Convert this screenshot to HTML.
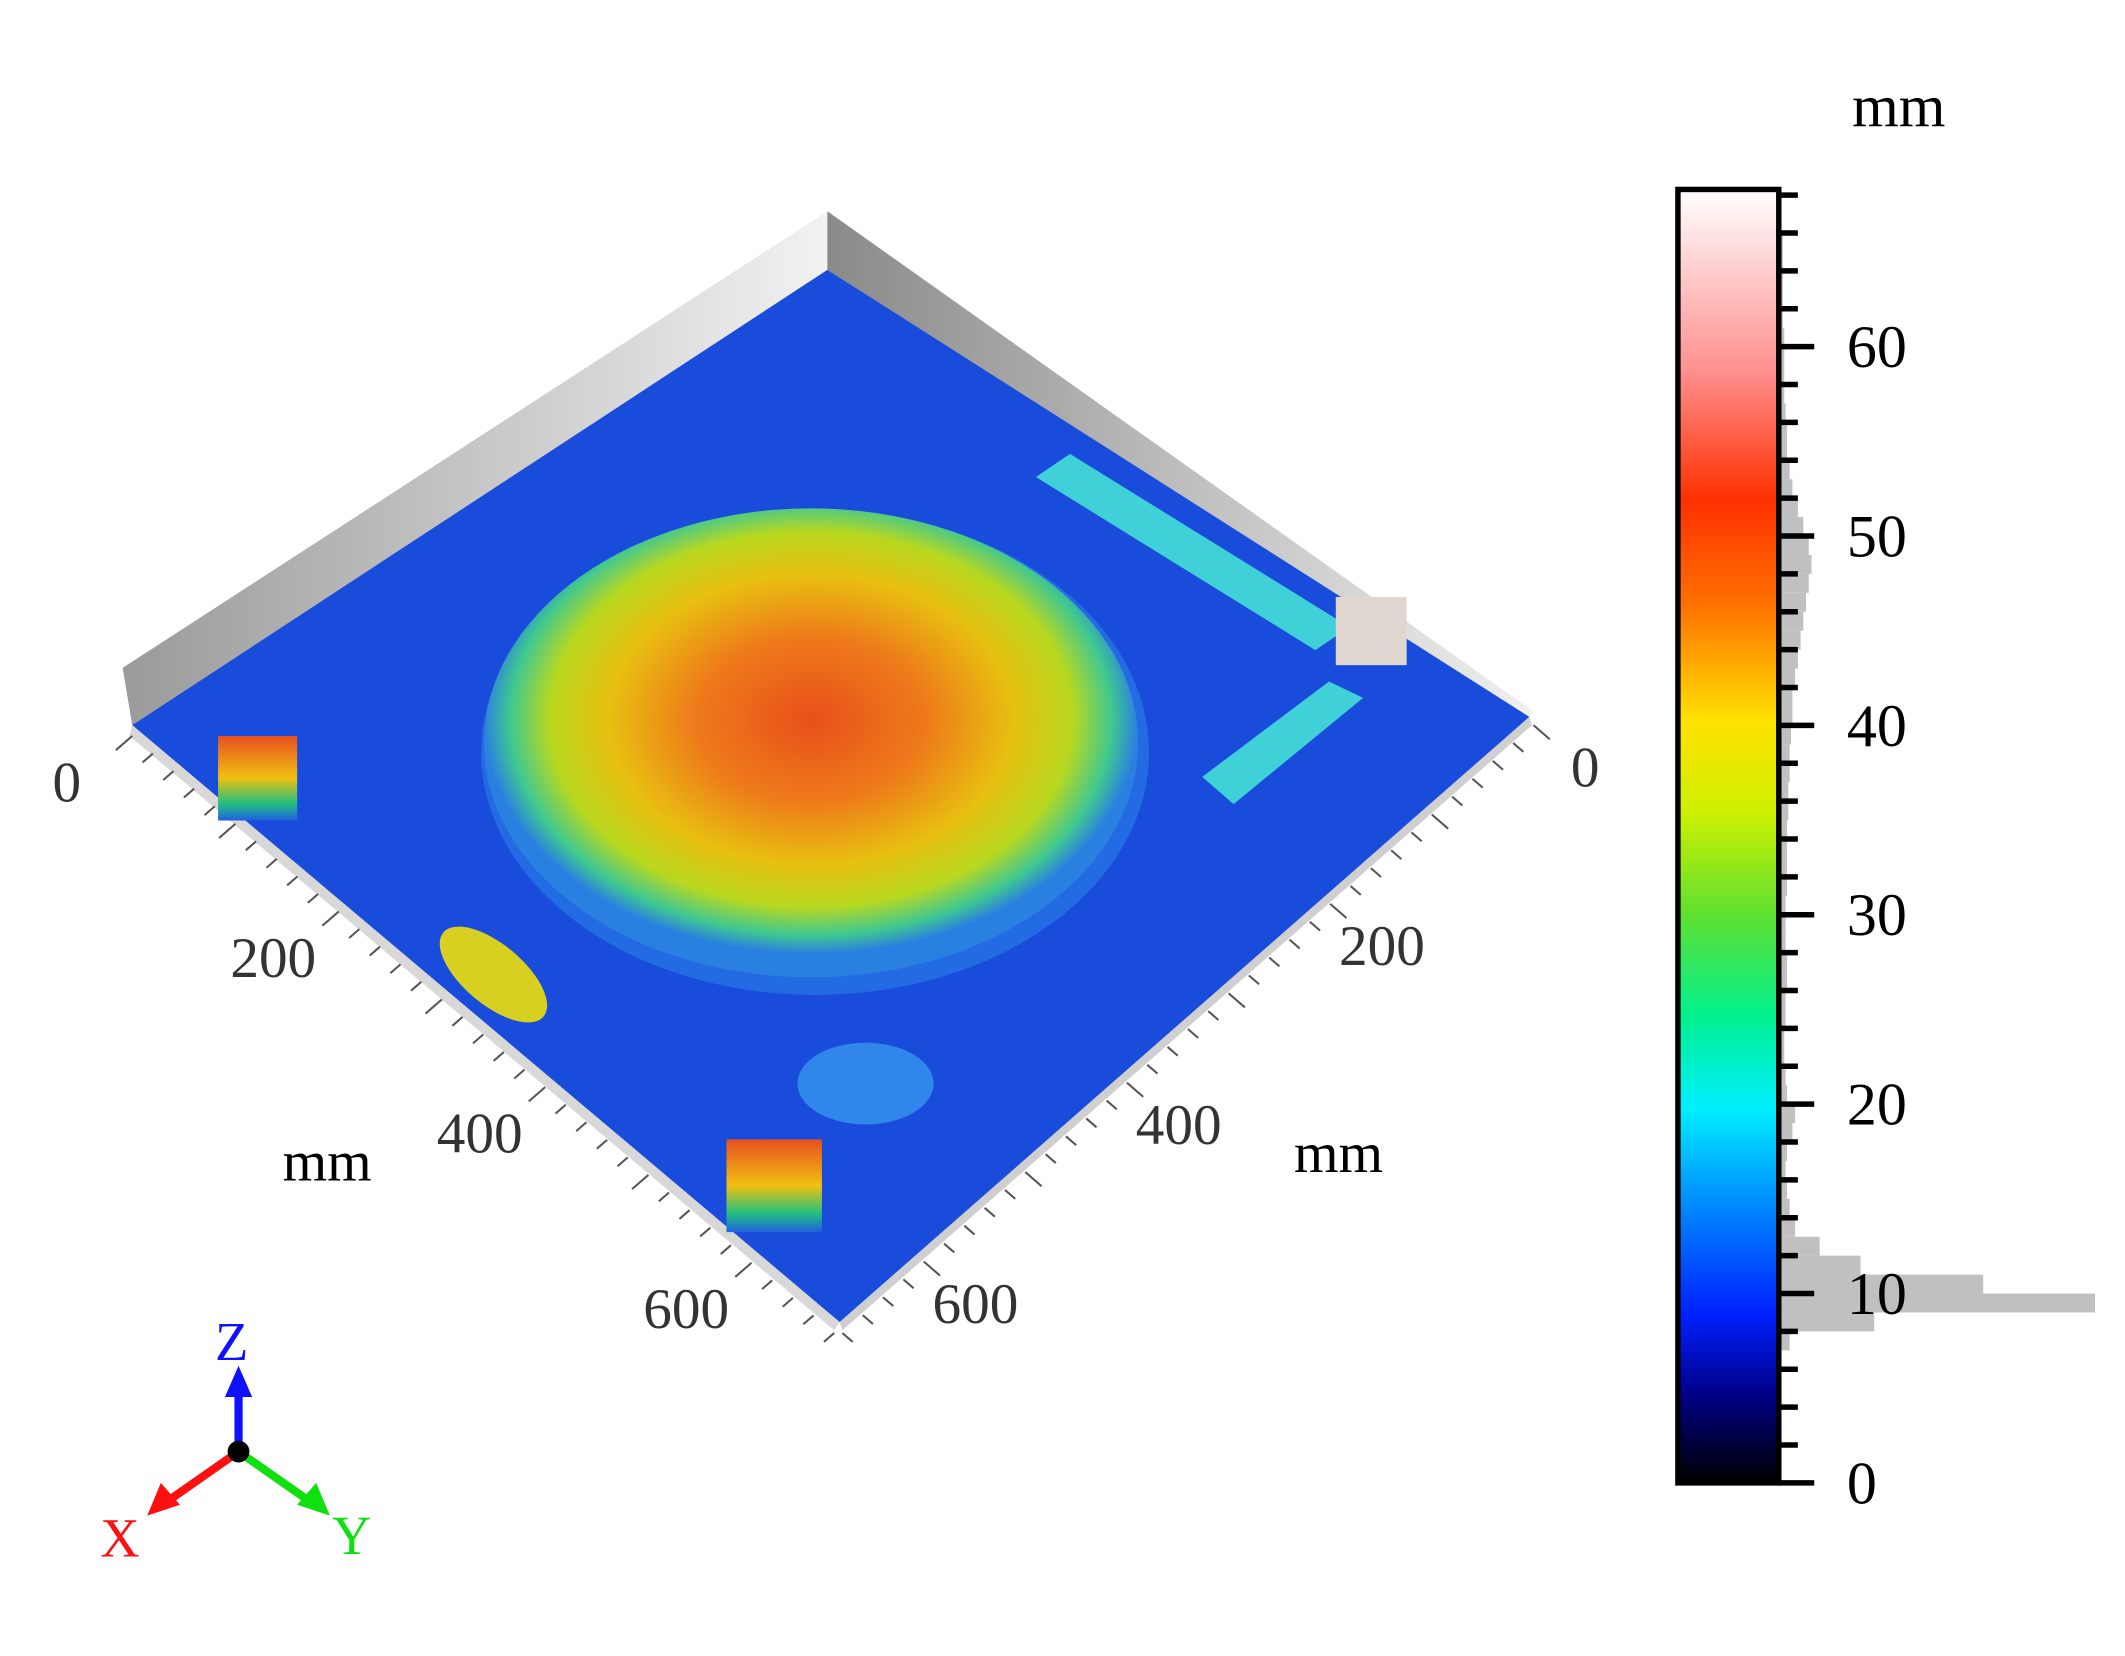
<!DOCTYPE html>
<html><head><meta charset="utf-8"><style>
html,body{margin:0;padding:0;background:#fff;}
svg{display:block;}
text{font-family:"Liberation Serif",serif;}
</style></head><body>
<svg id="chart" width="2125" height="1656" viewBox="0 0 1559 1215" preserveAspectRatio="none" xmlns="http://www.w3.org/2000/svg">
<defs>
<linearGradient id="cbar" x1="0" y1="1" x2="0" y2="0">
<stop offset="0" stop-color="#000000"/>
<stop offset="0.07" stop-color="#00008a"/>
<stop offset="0.13" stop-color="#0020ff"/>
<stop offset="0.22" stop-color="#0090ff"/>
<stop offset="0.29" stop-color="#00f0ff"/>
<stop offset="0.36" stop-color="#00f090"/>
<stop offset="0.44" stop-color="#60e030"/>
<stop offset="0.52" stop-color="#d0f000"/>
<stop offset="0.59" stop-color="#ffe000"/>
<stop offset="0.68" stop-color="#ff7000"/>
<stop offset="0.76" stop-color="#ff3000"/>
<stop offset="0.86" stop-color="#ff9090"/>
<stop offset="1" stop-color="#ffffff"/>
</linearGradient>
<radialGradient id="mound" cx="0.5" cy="0.45" r="0.5">
<stop offset="0" stop-color="#e8501a"/>
<stop offset="0.35" stop-color="#ee7a1a"/>
<stop offset="0.62" stop-color="#e8c010"/>
<stop offset="0.8" stop-color="#b8d820"/>
<stop offset="0.92" stop-color="#40c890"/>
<stop offset="1" stop-color="#2a80e0"/>
</radialGradient>
<linearGradient id="wallL" x1="0" y1="0" x2="1" y2="0"><stop offset="0" stop-color="#9a9a9a"/><stop offset="1" stop-color="#f2f2f2"/></linearGradient>
<linearGradient id="wallR" x1="0" y1="0" x2="1" y2="0"><stop offset="0" stop-color="#8a8a8a"/><stop offset="1" stop-color="#f0f0f0"/></linearGradient>
<linearGradient id="blk" x1="0" y1="0" x2="0" y2="1"><stop offset="0" stop-color="#e85020"/><stop offset="0.5" stop-color="#f0c010"/><stop offset="0.8" stop-color="#20c080"/><stop offset="1" stop-color="#2060e0"/></linearGradient>
</defs>

<polygon points="90,490 607,155 607,198 97,532" fill="url(#wallL)"/>
<polygon points="607,155 1125,522 1120,528 607,198" fill="url(#wallR)"/>
<polygon points="97,532 607,198 1122,526 616,970" fill="#1a4cdc"/>
<polygon points="97,532 616,970 612,976 95,540" fill="#d8d8d8"/>
<polygon points="616,970 1122,526 1124,532 618,976" fill="#cfcfcf"/>
<ellipse cx="598" cy="552" rx="245" ry="178" fill="#2a80e8" opacity="0.6"/>
<ellipse cx="595" cy="545" rx="240" ry="172" fill="url(#mound)"/>
<polygon points="760,350 785,333 990,460 965,477" fill="#40d0d8"/>
<polygon points="882,570 975,500 1000,512 905,590" fill="#40d0d8"/>
<rect x="980" y="438" width="52" height="50" fill="#e0d8d0"/>
<rect x="160" y="540" width="58" height="62" fill="url(#blk)"/>
<ellipse cx="362" cy="715" rx="48" ry="22" transform="rotate(40 362 715)" fill="#d8d020"/>
<rect x="533" y="836" width="70" height="68" fill="url(#blk)"/>
<ellipse cx="635" cy="795" rx="50" ry="30" fill="#3aa0f0" opacity="0.7"/>

<g id="axes"></g>
<text x="240" y="866" font-size="42" text-anchor="middle">mm</text>
<text x="982" y="860" font-size="42" text-anchor="middle">mm</text>

<g id="hist"></g>
<rect x="1231" y="139" width="74" height="949" fill="url(#cbar)" stroke="#000" stroke-width="4"/>
<g id="cbticks"></g>
<text x="1393" y="93" font-size="44" text-anchor="middle">mm</text>

<g>
<line x1="175" y1="1065" x2="175" y2="1020" stroke="#1010ff" stroke-width="6"/>
<polygon points="165,1025 185,1025 175,1002" fill="#1010ff"/>
<line x1="175" y1="1065" x2="125" y2="1100" stroke="#ff1010" stroke-width="6"/>
<polygon points="108,1112 118,1088 132,1104" fill="#ff1010"/>
<line x1="175" y1="1065" x2="225" y2="1100" stroke="#10e010" stroke-width="6"/>
<polygon points="242,1112 218,1104 232,1088" fill="#10e010"/>
<circle cx="175" cy="1065" r="8" fill="#000"/>
<text x="170" y="998" font-size="40" fill="#1010ff" text-anchor="middle" font-family="Liberation Sans">Z</text>
<text x="88" y="1142" font-size="40" fill="#ff1010" text-anchor="middle" font-family="Liberation Sans">X</text>
<text x="258" y="1140" font-size="40" fill="#10e010" text-anchor="middle" font-family="Liberation Sans">Y</text>
</g>
</svg>
<script>
const cbTicks=[0,10,20,30,40,50,60];
const cbMin=0, cbMax=68.3;
const histBins=[0,1,2,3,4,5,6,7,8,9,10,11,12,13,14,15,16,17,18,19,20,21,22,23,24,25,26,27,28,29,30,31,32,33,34,35,36,37,38,39,40,41,42,43,44,45,46,47,48,49,50,51,52,53,54,55,56,57,58,59,60,61,62,63,64,65,66,67];
const histCounts=[0,0,0,0,0,0,2,8,70,232,150,60,30,12,8,6,5,6,10,12,6,5,4,4,5,5,6,6,5,5,5,6,6,6,6,7,7,8,8,9,10,10,12,14,16,18,20,22,24,22,18,14,10,8,6,6,5,4,4,4,4,3,3,3,3,3,2,2];
const xTickVals=[0,200,400,600];
const yTickVals=[0,200,400,600];
const ns="http://www.w3.org/2000/svg";
const cbTop=139, cbBot=1088, cbX=1305;
function cy(v){return cbBot-(v-cbMin)/(cbMax-cbMin)*(cbBot-cbTop);}
const hist=document.getElementById('hist');
const binH=(cbBot-cbTop)/(cbMax-cbMin);
histBins.forEach((b,i)=>{
 const r=document.createElementNS(ns,'rect');
 r.setAttribute('x',cbX);r.setAttribute('y',cy(b+1));
 r.setAttribute('width',histCounts[i]);r.setAttribute('height',binH);
 r.setAttribute('fill','#c0c0c0');
 
 
 hist.appendChild(r);
});
const cbt=document.getElementById('cbticks');
for(let v=0;v<=cbMax;v+=2){
 const l=document.createElementNS(ns,'line');
 const major=v%10===0;
 l.setAttribute('x1',cbX);l.setAttribute('x2',cbX+(major?26:14));
 l.setAttribute('y1',cy(v));l.setAttribute('y2',cy(v));
 l.setAttribute('stroke','#000');l.setAttribute('stroke-width',4);
 
 
 cbt.appendChild(l);
}
cbTicks.forEach(v=>{
 const t=document.createElementNS(ns,'text');
 t.setAttribute('x',1355);t.setAttribute('y',cy(v)+15);
 t.setAttribute('font-size',44);t.textContent=v;
 
 
 cbt.appendChild(t);
});
const axes=document.getElementById('axes');
const maxMM=680;
function edge(p0,p1,v){const f=v/maxMM;return [p0[0]+(p1[0]-p0[0])*f,p0[1]+(p1[1]-p0[1])*f];}
const L0=[97,540],L1=[612,978],R0=[1125,532],R1=[618,978];
for(let v=0;v<=maxMM;v+=20){
 [[L0,L1,-1],[R0,R1,1]].forEach(([a,b,s])=>{
  const p=edge(a,b,v);const major=v%100===0;const len=major?16:10;
  const l=document.createElementNS(ns,'line');
  l.setAttribute('x1',p[0]);l.setAttribute('y1',p[1]);
  l.setAttribute('x2',p[0]+s*len*0.75);l.setAttribute('y2',p[1]+len*0.65);
  l.setAttribute('stroke','#555');l.setAttribute('stroke-width',1.5);
  
  
  axes.appendChild(l);
 });
}
xTickVals.forEach(v=>{
 const p=edge(L0,L1,v);
 const t=document.createElementNS(ns,'text');
 t.setAttribute('x',p[0]-48);t.setAttribute('y',p[1]+48);
 t.setAttribute('font-size',42);t.setAttribute('text-anchor','middle');
 t.setAttribute('font-family','Liberation Sans');t.setAttribute('fill','#333');
 t.textContent=v;
 
 
 axes.appendChild(t);
});
yTickVals.forEach(v=>{
 const p=edge(R0,R1,v);
 const t=document.createElementNS(ns,'text');
 t.setAttribute('x',p[0]+38);t.setAttribute('y',p[1]+45);
 t.setAttribute('font-size',42);t.setAttribute('text-anchor','middle');
 t.setAttribute('font-family','Liberation Sans');t.setAttribute('fill','#333');
 t.textContent=v;
 
 
 axes.appendChild(t);
});
</script>
</body></html>
